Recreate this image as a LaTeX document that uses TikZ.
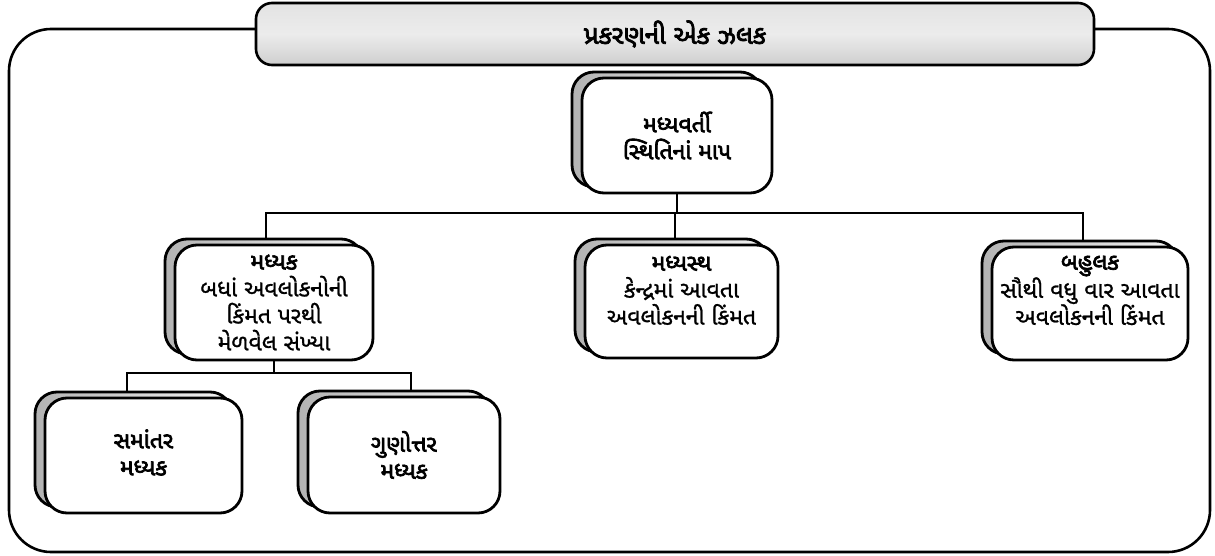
\documentclass[tikz,border=0pt]{standalone}
\usepackage{fontspec}
\newfontfamily\guj[Script=Gujarati,FakeBold=1]{Noto Sans Gujarati UI}
\newfontfamily\gujb[Script=Gujarati,FakeBold=3]{Noto Sans Gujarati UI}
\newcommand\pairbox[5]{%
  \node[backbox, minimum width=#4pt, minimum height=#5pt] (#1back) at (#2-10,#3-6) {};
  \node[frontbox, minimum width=#4pt, minimum height=#5pt] (#1) at (#2,#3) {};
}
\tikzset{
  frontbox/.style={draw=black, line width=2.8pt, fill=white, rounded corners=22pt, inner sep=0pt},
  backbox/.style={draw=black, line width=2.8pt, left color=gray!60, right color=gray!8, rounded corners=22pt, inner sep=0pt},
  conn/.style={draw=black, line width=2.6pt},
  frame/.style={draw=black, line width=2.6pt, rounded corners=42pt},
  titlebox/.style={draw=black, line width=2.6pt, rounded corners=16pt, top color=gray!22, bottom color=gray!38, middle color=gray!15, minimum width=838pt, minimum height=62pt, inner sep=0pt},
  body/.style={font=\guj\fontsize{23}{27}\selectfont, align=center, inner sep=0pt},
  head/.style={font=\gujb\fontsize{23}{27}\selectfont, align=center, inner sep=0pt},
}
\begin{document}
\begin{tikzpicture}[x=1pt,y=-1pt]
\useasboundingbox (0,0) rectangle (1215,556);
% outer frame
\draw[frame] (9,29) rectangle (1210,552);
% title
\node[titlebox] (title) at (675,34) {};
\node[head, font=\gujb\fontsize{26}{30}\selectfont] (titletext) at (title.center) {પ્રકરણની એક ઝલક};
% boxes
\pairbox{c}{677}{135.5}{190}{115}
\pairbox{a}{274}{302.5}{198}{115}
\pairbox{m}{681.5}{301.5}{193}{113}
\pairbox{r}{1090}{303.5}{196}{113}
\pairbox{bl}{143.5}{455.5}{197}{115}
\pairbox{bm}{404}{455}{192}{116}
% texts
\node[head] (ctext) at (c.center) {મધ્યવર્તી\\સ્થિતિનાં માપ};
\node[body] (atext) at (a.center) {{\gujb મધ્યક}\\બધાં અવલોકનોની\\કિંમત પરથી\\મેળવેલ સંખ્યા};
\node[body, anchor=north] (mtext) at ([yshift=-12pt]m.north) {{\gujb મધ્યસ્થ}\\કેન્દ્રમાં આવતા\\અવલોકનની કિંમત};
\node[body, anchor=north] (rtext) at ([yshift=-10pt]r.north) {{\gujb બહુલક}\\સૌથી વધુ વાર આવતા\\અવલોકનની કિંમત};
\node[head] (bltext) at ([yshift=3pt]bl.center) {સમાંતર\\મધ્યક};
\node[head] (bmtext) at (bm.center) {ગુણોત્તર\\મધ્યક};
% connectors
\coordinate (busL) at (266,213);
\coordinate (busM) at (675,213);
\coordinate (busR) at (1083,213);
\coordinate (bus2L) at (127,373);
\coordinate (bus2R) at (411,373);
\draw[conn] (c.south) -- (c.south |- busL);
\draw[conn] (busL |- aback.north) -- (busL) -- (busR) -- (busR |- rback.north);
\draw[conn] (busM) -- (busM |- mback.north);
\draw[conn] (a.south) -- (a.south |- bus2L);
\draw[conn] (bus2L |- blback.north) -- (bus2L) -- (bus2R) -- (bus2R |- bmback.north);
\end{tikzpicture}
\end{document}
